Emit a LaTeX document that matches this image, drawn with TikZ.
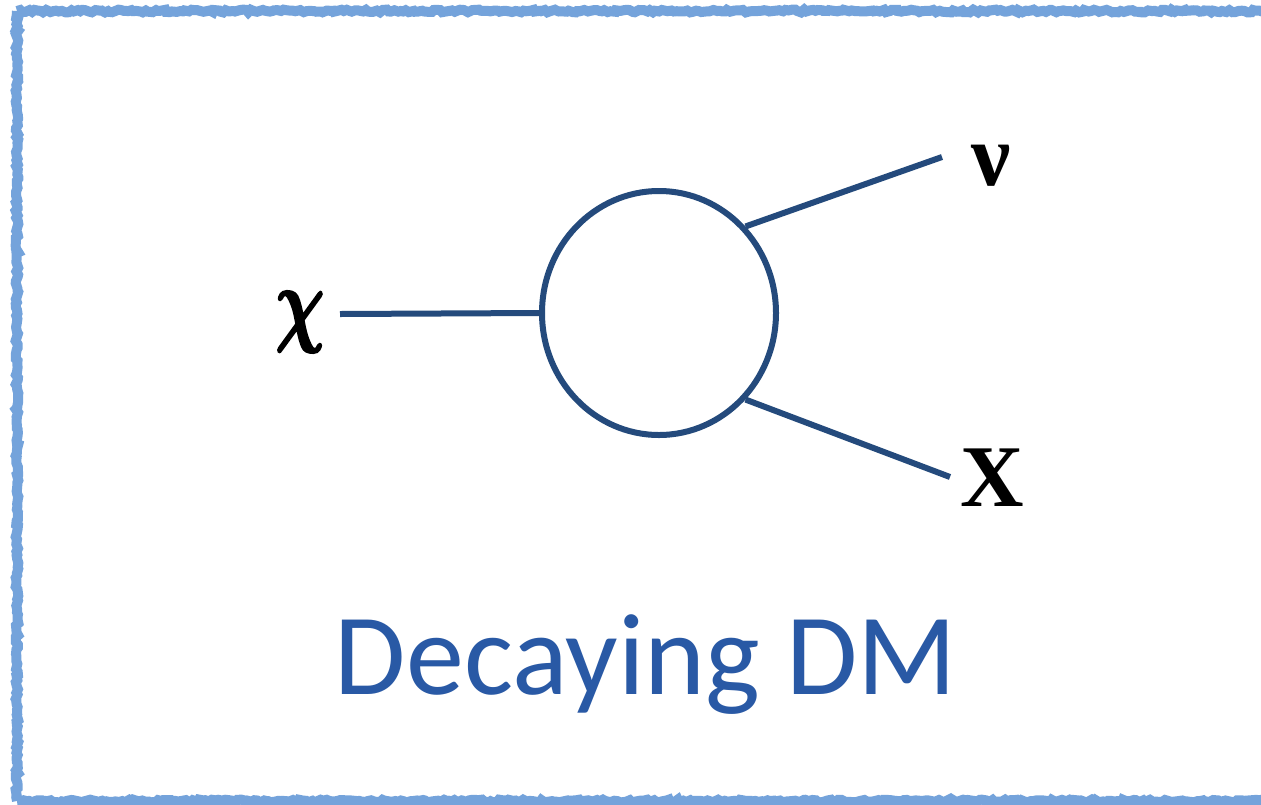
\documentclass[tikz,border=0pt]{standalone}
\usepackage{amsmath}
\usepackage{graphicx}
\usepackage{fontspec}
\setmainfont{Liberation Serif}
\newfontfamily\calib{Carlito}
\usetikzlibrary{shapes.geometric,decorations.pathmorphing}
\definecolor{frameblue}{RGB}{116,163,219}
\definecolor{lineblue}{RGB}{36,74,124}
\definecolor{textblue}{RGB}{41,89,165}
\tikzset{
  frameline/.style={draw=frameblue,line width=10pt,decorate,decoration={random steps,segment length=3pt,amplitude=1.4pt}},
  prop/.style={draw=lineblue,line width=6pt},
  lbl/.style={inner sep=0pt,font=\fontsize{88}{90}\selectfont\bfseries},
}
\begin{document}
\begin{tikzpicture}[x=1pt,y=-1pt]
\useasboundingbox (0,0) rectangle (1261,804);
\fill[white] (0,0) rectangle (1261,804);
\draw[frameline] (17,11) -- (1290,11);
\draw[frameline] (17,11) -- (17,801);
\draw[frameline] (17,801) -- (1290,801);
\node[ellipse,draw=lineblue,line width=6pt,minimum width=234pt,minimum height=244pt,inner sep=0pt] (blob) at (659,313) {};
\node[inner sep=0pt] (chi) at (300,322) {\special{pdf:literal direct 2 Tr 0.28 w}\scalebox{6.8}[9.4]{$\boldsymbol{\chi}$}\special{pdf:literal direct 0 Tr 0.4 w}};
\node[lbl] (nu) at (991,166) {ν};
\node[lbl] (X) at (992,478) {X};
\coordinate (chiend) at (340,314);
\coordinate (nuend) at (942,157);
\coordinate (xend) at (950,477);
\draw[prop] (chiend) -- (blob.west);
\draw[prop] (blob.45) -- (nuend);
\draw[prop] (blob.-45) -- (xend);
\node[inner sep=0pt,anchor=base,text=textblue,font=\calib\fontsize{116}{120}\selectfont] (title) at (646,694) {Decaying DM};
\end{tikzpicture}
\end{document}
